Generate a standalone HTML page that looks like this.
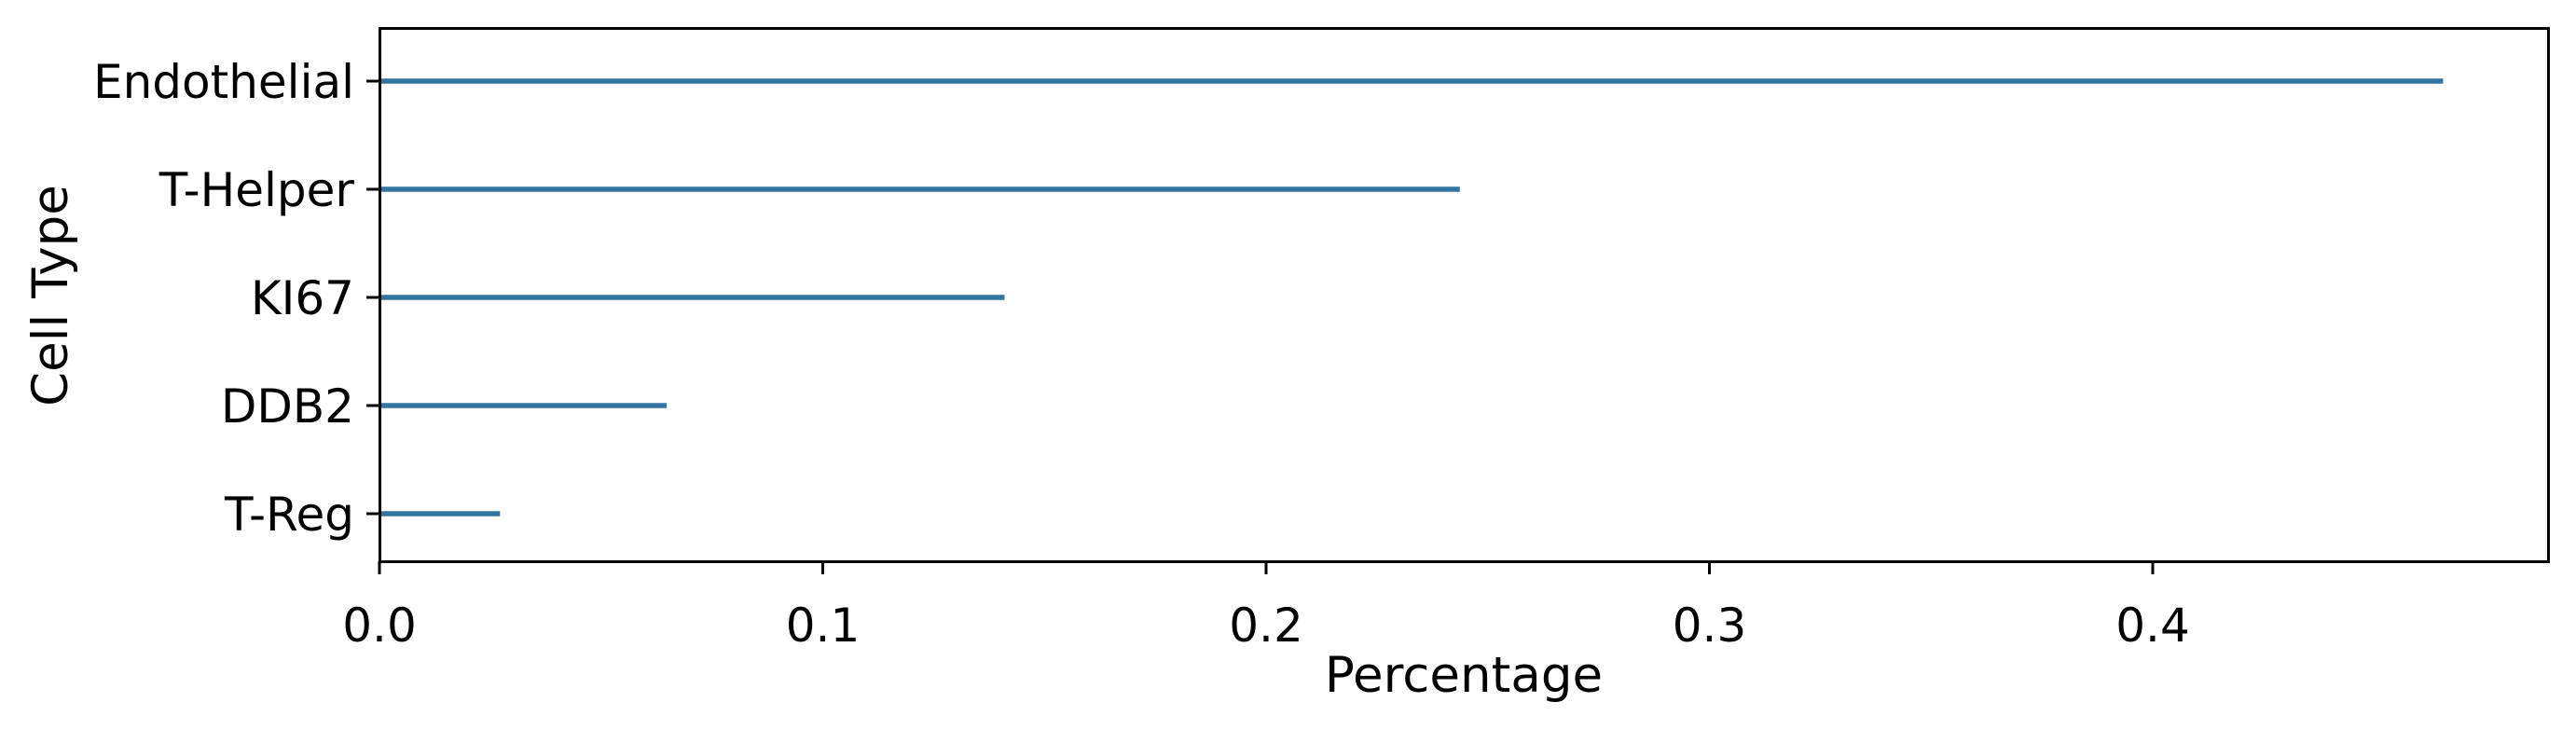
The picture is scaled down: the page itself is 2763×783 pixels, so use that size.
<!DOCTYPE html>
<html><head><meta charset="utf-8"><style>
html,body{margin:0;padding:0;background:#fff;}
svg{display:block;font-family:"DejaVu Sans","Liberation Sans",sans-serif;}
</style></head><body>
<svg id="chart" width="2763" height="783" viewBox="0 0 2763 783" xmlns="http://www.w3.org/2000/svg">
<rect x="0" y="0" width="2763" height="783" fill="#fff"/>
<g id="marks"></g>
<g id="yaxis"></g>
<g id="xaxis"></g>
<rect x="407.5" y="30.5" width="2326" height="572" fill="none" stroke="#000" stroke-width="3"/>
<text x="1570" y="742" font-size="53" text-anchor="middle">Percentage</text>
<text transform="translate(72,317) rotate(-90)" font-size="53" text-anchor="middle">Cell Type</text>
</svg>
<script>
const categories = ["Endothelial","T-Helper","KI67","DDB2","T-Reg"];
const values = [0.4655, 0.2437, 0.141, 0.0648, 0.0272];
const xTicks = [0, 0.1, 0.2, 0.3, 0.4];
const xTickLabels = ["0.0","0.1","0.2","0.3","0.4"];

const NS = "http://www.w3.org/2000/svg";
const X0 = 407, PX = 4755;
const x = v => X0 + v * PX;
const yTop = 87, yStep = 116;
const y = i => yTop + i * yStep;
function mk(tag, attrs, parent){const e=document.createElementNS(NS,tag);for(const k in attrs)e.setAttribute(k,attrs[k]);parent.appendChild(e);return e;}
const marks=document.getElementById('marks'), ya=document.getElementById('yaxis'), xa=document.getElementById('xaxis');
categories.forEach((c,i)=>{
  const l=mk('line',{x1:x(0),x2:x(values[i]),y1:y(i),y2:y(i),stroke:'#3274a1','stroke-width':5.5},marks);
  
  
  const t=mk('line',{x1:393,x2:407,y1:y(i),y2:y(i),stroke:'#000','stroke-width':3},ya);
  
  
  const tx=mk('text',{x:380,y:y(i)+18,'font-size':50,'text-anchor':'end'},ya);
  tx.textContent=c;
  
  
});
xTicks.forEach((v,i)=>{
  const t=mk('line',{x1:x(v),x2:x(v),y1:602,y2:616,stroke:'#000','stroke-width':3},xa);
  
  
  const tx=mk('text',{x:x(v),y:688,'font-size':50,'text-anchor':'middle'},xa);
  tx.textContent=xTickLabels[i];
  
  
});
</script>
</body></html>
